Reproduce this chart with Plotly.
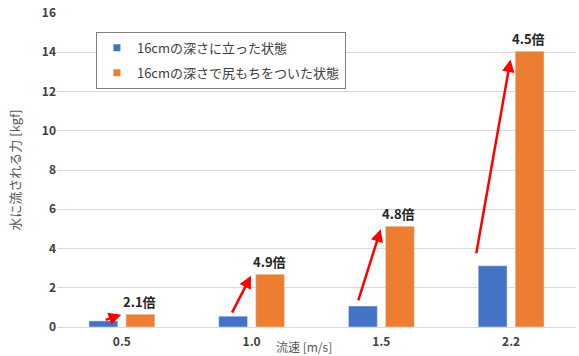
import plotly.graph_objects as go

categories = ["0.5", "1.0", "1.5", "2.2"]
standing = [0.31, 0.55, 1.07, 3.12]
sitting = [0.65, 2.69, 5.14, 14.05]
ratio_labels = ["2.1倍", "4.9倍", "4.8倍", "4.5倍"]
series_names = ["16cmの深さに立った状態", "16cmの深さで尻もちをついた状態"]
y_ticks = [0, 2, 4, 6, 8, 10, 12, 14, 16]

BLUE = "#4472C4"
ORANGE = "#ED7D31"
FONT = "Noto Sans CJK JP"

fig = go.Figure()
fig.add_trace(go.Bar(x=categories, y=standing, marker_color=BLUE, name=series_names[0],
                     showlegend=False, legendgroup="a"))
fig.add_trace(go.Bar(x=categories, y=sitting, marker_color=ORANGE, name=series_names[1],
                     showlegend=False, legendgroup="b"))
# legend proxies with small square symbols
fig.add_trace(go.Scatter(x=[None], y=[None], mode="markers", name=series_names[0],
                         marker=dict(symbol="square", size=7, color=BLUE), legendgroup="a"))
fig.add_trace(go.Scatter(x=[None], y=[None], mode="markers", name=series_names[1],
                         marker=dict(symbol="square", size=7, color=ORANGE), legendgroup="b"))

annotations = []
for i, (b, o, lab) in enumerate(zip(standing, sitting, ratio_labels)):
    annotations.append(dict(
        x=i - 0.005, y=o * 0.97, xref="x", yref="y",
        ax=i - 0.13 - 0.01 * o, ay=b + 0.04 * o, axref="x", ayref="y",
        showarrow=True, arrowhead=2, arrowsize=1, arrowwidth=2.5, arrowcolor="#FF0000",
        text="", standoff=0, startstandoff=0))
    annotations.append(dict(
        x=i + 0.135, y=o, xref="x", yref="y", text=lab, showarrow=False,
        yanchor="bottom", yshift=1,
        font=dict(family=FONT, size=13, color="#262626", weight="bold")))

annotations.append(dict(
    x=0.475, y=-0.062, xref="paper", yref="paper", text="流速 [m/s]", showarrow=False,
    xanchor="center", yanchor="middle", font=dict(family=FONT, size=12, color="#595959")))

fig.update_layout(
    width=579, height=356,
    margin=dict(l=57, r=3, t=13, b=29),
    paper_bgcolor="white", plot_bgcolor="white",
    font=dict(family=FONT, size=12, color="#404040"),
    barmode="group", bargap=0.43, bargroupgap=0.22,
    showlegend=True,
    legend=dict(x=0.075, y=0.94, xanchor="left", yanchor="top",
                bordercolor="#7f7f7f", borderwidth=1, bgcolor="white",
                font=dict(family=FONT, size=13, color="#404040"),
                tracegroupgap=5, traceorder="grouped"),
    annotations=annotations,
    xaxis=dict(type="category", showgrid=False, showline=True, linecolor="#d9d9d9",
               ticks="", ticklabelstandoff=4,
               tickfont=dict(family=FONT, size=12, color="#404040", weight="bold")),
    yaxis=dict(range=[0, 16], tickvals=y_ticks, showgrid=True, gridcolor="#d9d9d9",
               zeroline=False, ticks="", showline=False,
               tickfont=dict(family=FONT, size=12, color="#404040", weight="bold"),
               title=dict(text="水に流される力 [kgf]", standoff=18,
                          font=dict(family=FONT, size=13, color="#595959"))),
)

fig.write_html("out.html")
